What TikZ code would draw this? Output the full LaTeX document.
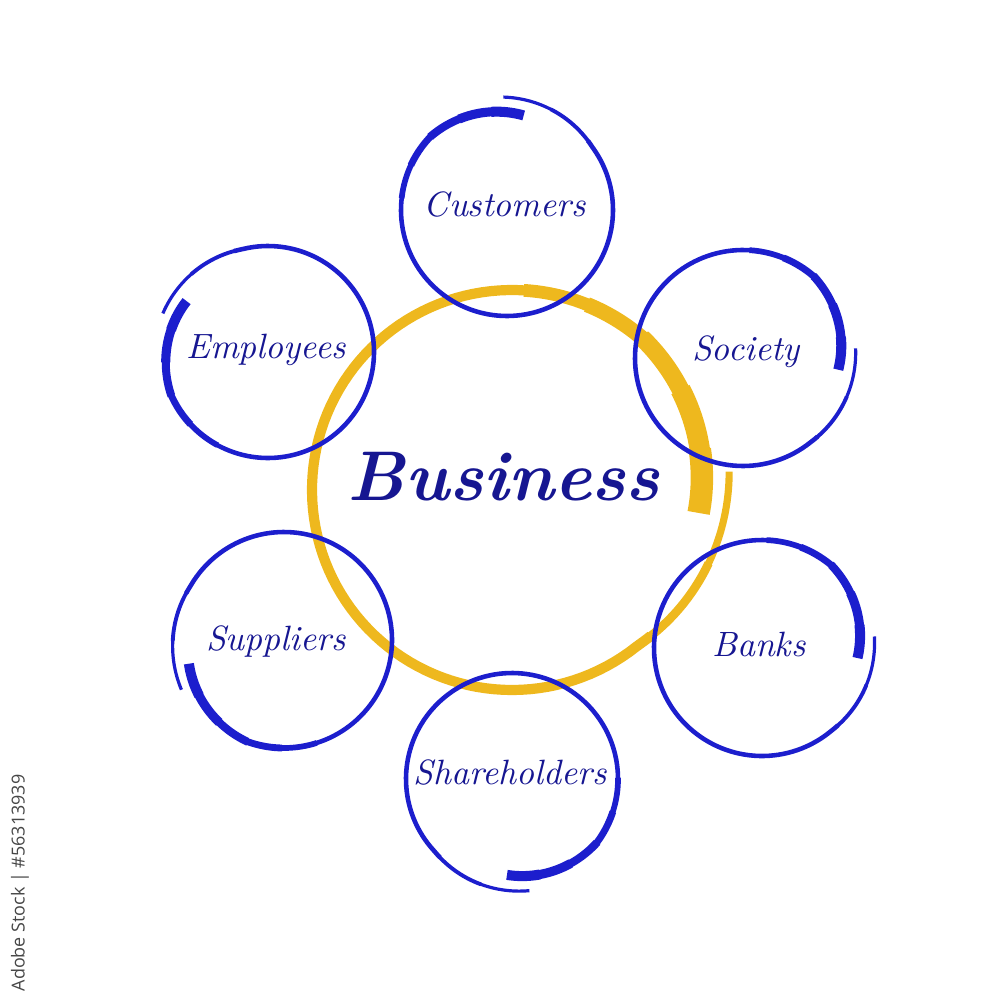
\documentclass[tikz,border=0pt]{standalone}
\usepackage{fontspec}
\newfontfamily\wmfont{Open Sans}
\definecolor{ringblue}{RGB}{28,30,205}
\definecolor{textblue}{RGB}{22,22,145}
\definecolor{ringyellow}{RGB}{238,184,30}
\definecolor{wmgray}{RGB}{70,70,70}
% cx, cy, r, start, sweep, inward, outward, base width (pt), colour
\newcommand{\handring}[9]{%
  \foreach \fa/\fb/\fw in {0/0.05/2.2, 0.05/0.10/2.0, 0.10/0.15/1.75, 0.15/0.20/1.5, 0.20/0.25/1.25, 0.25/0.86/1, 0.86/0.93/0.85, 0.93/0.998/0.7}{%
    \draw[#9, line width={\fw*#8pt}, line join=round]
      plot[domain={(#4)+(#5)*\fa}:{(#4)+(#5)*\fb+0.6}, samples=90, variable=\t]
      ({#1+(#3-(#6)*max(0,1-(\t-(#4))/(0.15*(#5)))+(#7)*max(0,(\t-(#4)-0.85*(#5))/(0.15*(#5))))*cos(\t)},
       {#2-(#3-(#6)*max(0,1-(\t-(#4))/(0.15*(#5)))+(#7)*max(0,(\t-(#4)-0.85*(#5))/(0.15*(#5))))*sin(\t)});
  }%
}
\tikzset{
  lbl/.style={font=\itshape\fontsize{10}{12}\selectfont, text=textblue, inner sep=0pt, anchor=base},
  biz/.style={font=\bfseries\itshape\fontsize{20}{24}\selectfont, text=textblue, inner sep=0pt, anchor=base},
  wm/.style={font=\wmfont\fontsize{5.1}{6}\selectfont, text=wmgray, inner sep=0pt, rotate=90}
}
\begin{document}
\begin{tikzpicture}[x=0.01cm, y=-0.01cm]
\useasboundingbox (0,0) rectangle (995,1000);
% central ring
\handring{512}{490}{200}{-7}{372}{12}{18}{2.9}{ringyellow}
% outer rings
\handring{507}{210}{106}{80}{372}{10}{7}{1.3}{ringblue}
\handring{268}{352}{106}{148}{372}{10}{6}{1.3}{ringblue}
\handring{743}{358}{108}{-7}{372}{12}{5}{1.3}{ringblue}
\handring{284}{640}{108}{194}{372}{10}{6}{1.3}{ringblue}
\handring{762}{648}{108}{-6}{372}{12}{5}{1.3}{ringblue}
\handring{512}{779}{106}{267}{372}{10}{7}{1.3}{ringblue}
% labels
\node[biz] (business) at (504,500) {Business};
\node[lbl] (customers) at (505,216) {Customers};
\node[lbl] (employees) at (266,358) {Employees};
\node[lbl] (society) at (746,360) {Society};
\node[lbl] (suppliers) at (276,650) {Suppliers};
\node[lbl] (banks) at (759,656) {Banks};
\node[lbl] (shareholders) at (510,784) {Shareholders};
\node[wm] (watermark) at (20,883) {Adobe Stock | \#56313939};
\end{tikzpicture}
\end{document}
